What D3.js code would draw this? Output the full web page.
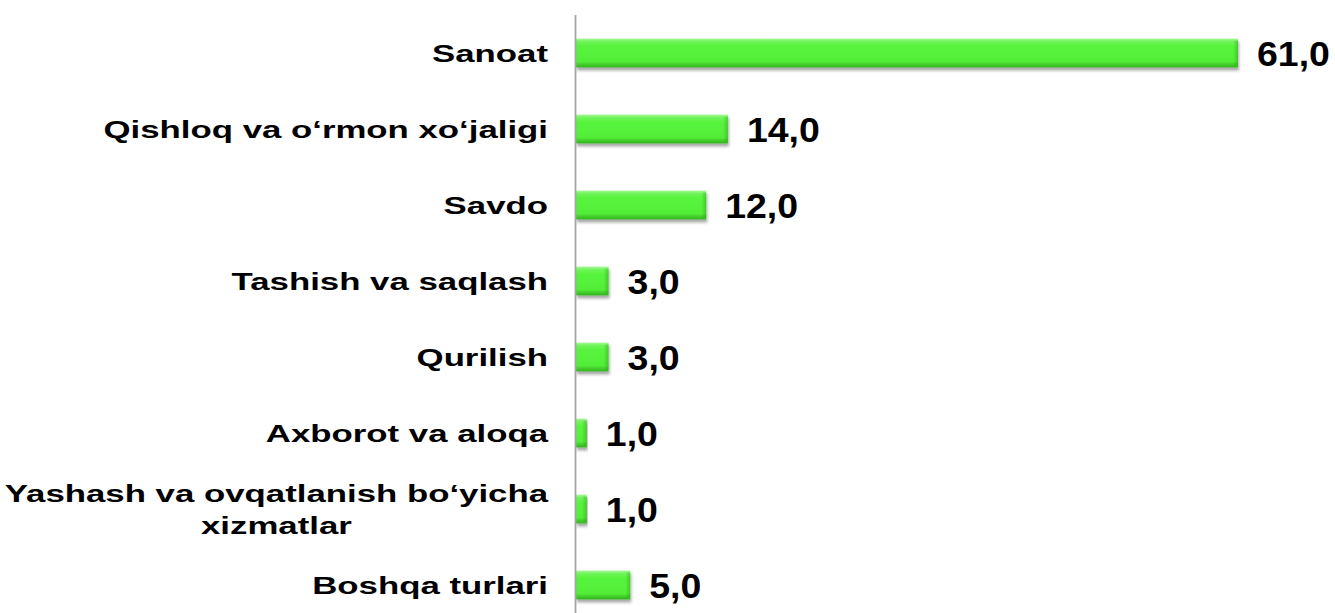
<!DOCTYPE html>
<html>
<head>
<meta charset="utf-8">
<script src="https://cdn.jsdelivr.net/npm/d3@7"></script>
<style>
  html, body { margin: 0; padding: 0; background: #ffffff; }
  svg { display: block; }
</style>
</head>
<body>
<svg id="chart" width="1335" height="613"></svg>
<script>
// ---- data ----
const categories = [
  "Sanoat",
  "Qishloq va o‘rmon xo‘jaligi",
  "Savdo",
  "Tashish va saqlash",
  "Qurilish",
  "Axborot va aloqa",
  "Yashash va ovqatlanish bo‘yicha\nxizmatlar",
  "Boshqa turlari"
];
const values = [61.0, 14.0, 12.0, 3.0, 3.0, 1.0, 1.0, 5.0];
const valueLabels = ["61,0", "14,0", "12,0", "3,0", "3,0", "1,0", "1,0", "5,0"];

// ---- layout ----
const W = 1335, H = 613;
const axisX = 576;
const svg = d3.select("#chart");

const x = d3.scaleLinear().domain([0, 61]).range([axisX, 1238]);
const y = d3.scaleBand().domain(categories).range([15, 623]).paddingInner(0.62).paddingOuter(0.31);

const defs = svg.append("defs");
const g1 = defs.append("linearGradient").attr("id", "barGrad").attr("x1", 0).attr("y1", 0).attr("x2", 0).attr("y2", 1);
[[0, "#a8f99a"], [0.1, "#72f45c"], [0.25, "#58f43e"], [0.8, "#52ee38"], [0.88, "#44d22c"], [1, "#35b023"]]
  .forEach(([o, c]) => g1.append("stop").attr("offset", o).attr("stop-color", c));
const g2 = defs.append("linearGradient").attr("id", "endGrad").attr("x1", 0).attr("y1", 0).attr("x2", 1).attr("y2", 0);
g2.append("stop").attr("offset", 0).attr("stop-color", "#2a9a18").attr("stop-opacity", 0);
g2.append("stop").attr("offset", 1).attr("stop-color", "#2a9a18").attr("stop-opacity", 0.45);
const f = defs.append("filter").attr("id", "shadow").attr("x", "-5%").attr("y", "-30%").attr("width", "115%").attr("height", "180%");
f.append("feDropShadow").attr("dx", 1).attr("dy", 3).attr("stdDeviation", 1.6)
  .attr("flood-color", "#000").attr("flood-opacity", 0.35);

// bars
const bars = svg.append("g").selectAll("g.bar").data(values).join("g").attr("class", "bar");
bars.append("rect")
  .attr("x", x(0))
  .attr("y", (d, i) => y(categories[i]))
  .attr("width", d => x(d) - x(0))
  .attr("height", y.bandwidth())
  .attr("fill", "url(#barGrad)")
  .attr("filter", "url(#shadow)");
bars.append("rect")
  .attr("x", d => Math.max(x(0), x(d) - 5))
  .attr("y", (d, i) => y(categories[i]) + 2)
  .attr("width", d => Math.min(5, x(d) - x(0)))
  .attr("height", y.bandwidth() - 4)
  .attr("fill", "url(#endGrad)");

// axis line
const axis = svg.append("g").attr("transform", `translate(${axisX - 0.5},0)`)
  .call(d3.axisLeft(y).tickSize(0).tickFormat(""));
axis.select(".domain").attr("stroke", "#a6a6a6").attr("stroke-width", 1.8)
  .attr("d", `M0,15V${H}`);

// value labels
svg.append("g").selectAll("g").data(values).join("g")
  .attr("transform", (d, i) => `translate(${x(d) + 19},${y(categories[i]) + y.bandwidth() / 2 + 1}) scale(1.07,1)`)
  .append("text")
  .attr("dominant-baseline", "central")
  .attr("font-family", "'Liberation Sans', Arial, sans-serif")
  .attr("font-weight", "bold")
  .attr("font-size", 35)
  .attr("fill", "#000")
  .text((d, i) => valueLabels[i]);

// category labels (horizontally stretched like the source)
const labelRight = 548, sx = 1.45, lineH = 32;
categories.forEach((c, i) => {
  const lines = c.split("\n");
  const cy = y(c) + y.bandwidth() / 2;
  const grp = svg.append("g").attr("transform", `translate(${labelRight},${cy}) scale(${sx},1)`);
  const t = grp.append("text")
    .attr("font-family", "'Liberation Sans', Arial, sans-serif")
    .attr("font-weight", "bold")
    .attr("font-size", 24)
    .attr("fill", "#000")
    .attr("dominant-baseline", "central");
  if (lines.length === 1) {
    t.attr("text-anchor", "end").attr("y", 1).text(c);
  } else {
    const spans = lines.map((l, k) => t.append("tspan").text(l)
      .attr("y", (k - (lines.length - 1) / 2) * lineH));
    const maxW = d3.max(spans, s => s.node().getComputedTextLength());
    t.attr("text-anchor", "middle");
    spans.forEach(s => s.attr("x", -maxW / 2));
  }
});
</script>
</body>
</html>
